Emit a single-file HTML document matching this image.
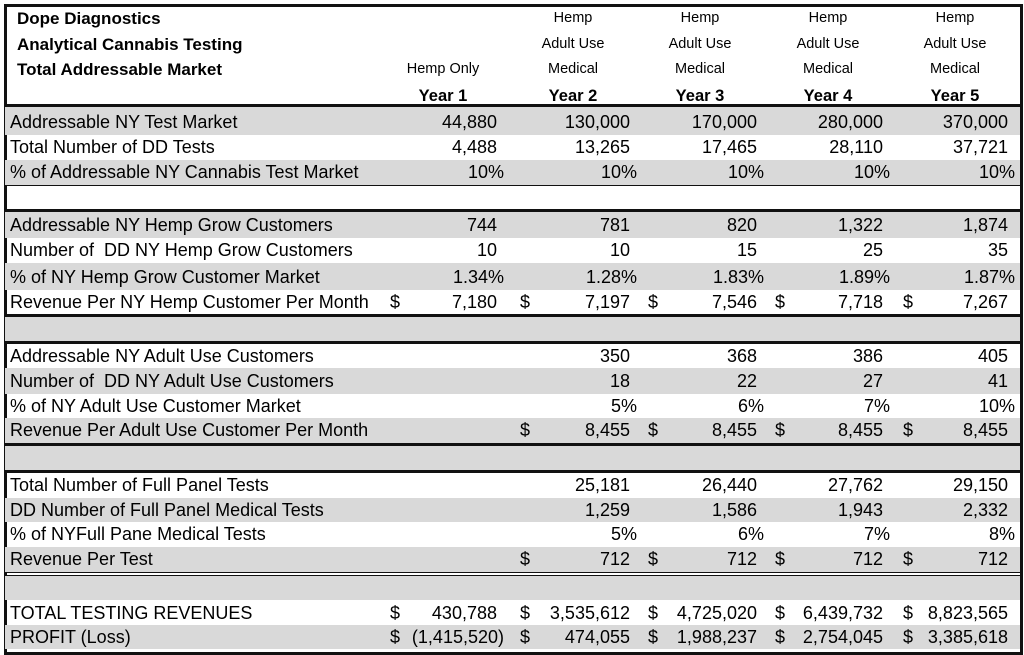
<!DOCTYPE html>
<html><head><meta charset="utf-8"><style>
body{margin:0;width:1024px;height:655px;background:#fff;position:relative;overflow:hidden;font-family:"Liberation Sans",sans-serif;color:#000}
.r{position:absolute;left:5px;width:1015px;font-size:18px}
.g{background:#d9d9d9}
.r span{position:absolute;top:0;white-space:nowrap}
.l{left:5px}
.ln{position:absolute;left:5px;width:1015px;background:#111}
.h{position:absolute;font-size:14.5px;text-align:center;width:110px;white-space:nowrap}
.y{position:absolute;font-size:16.5px;font-weight:bold;text-align:center;width:110px}
.t{position:absolute;left:17px;font-size:17px;font-weight:bold}
</style></head><body>
<div style="position:absolute;left:4px;top:4px;width:1013px;height:645px;border:3px solid #111"></div>

<div class="t" style="top:9px">Dope Diagnostics</div>
<div class="t" style="top:35px">Analytical Cannabis Testing</div>
<div class="t" style="top:60px">Total Addressable Market</div>
<div class="h" style="left:388px;top:61px">Hemp Only</div>
<div class="y" style="left:388px;top:87px">Year 1</div>
<div class="h" style="left:518px;top:10px">Hemp</div><div class="h" style="left:518px;top:36px">Adult Use</div><div class="h" style="left:518px;top:61px">Medical</div><div class="y" style="left:518px;top:87px">Year 2</div>
<div class="h" style="left:645px;top:10px">Hemp</div><div class="h" style="left:645px;top:36px">Adult Use</div><div class="h" style="left:645px;top:61px">Medical</div><div class="y" style="left:645px;top:87px">Year 3</div>
<div class="h" style="left:773px;top:10px">Hemp</div><div class="h" style="left:773px;top:36px">Adult Use</div><div class="h" style="left:773px;top:61px">Medical</div><div class="y" style="left:773px;top:87px">Year 4</div>
<div class="h" style="left:900px;top:10px">Hemp</div><div class="h" style="left:900px;top:36px">Adult Use</div><div class="h" style="left:900px;top:61px">Medical</div><div class="y" style="left:900px;top:87px">Year 5</div>

<div class="ln" style="top:104px;height:3px"></div>
<div class="r g" style="top:107px;height:28px;line-height:30px"><span class="l">Addressable NY Test Market</span><span style="right:523px">44,880</span><span style="right:390px">130,000</span><span style="right:263px">170,000</span><span style="right:137px">280,000</span><span style="right:12px">370,000</span></div>
<div class="r" style="top:135px;height:25px;line-height:25px"><span class="l">Total Number of DD Tests</span><span style="right:523px">4,488</span><span style="right:390px">13,265</span><span style="right:263px">17,465</span><span style="right:137px">28,110</span><span style="right:12px">37,721</span></div>
<div class="r g" style="top:160px;height:25px;line-height:25px"><span class="l">% of Addressable NY Cannabis Test Market</span><span style="right:516px">10%</span><span style="right:383px">10%</span><span style="right:256px">10%</span><span style="right:130px">10%</span><span style="right:5px">10%</span></div>
<div class="ln" style="top:185px;height:1px"></div>
<div class="ln" style="top:209px;height:3px"></div>

<div class="r g" style="top:212px;height:26px;line-height:26px"><span class="l">Addressable NY Hemp Grow Customers</span><span style="right:523px">744</span><span style="right:390px">781</span><span style="right:263px">820</span><span style="right:137px">1,322</span><span style="right:12px">1,874</span></div>
<div class="r" style="top:238px;height:25px;line-height:25px"><span class="l">Number of &nbsp;DD NY Hemp Grow Customers</span><span style="right:523px">10</span><span style="right:390px">10</span><span style="right:263px">15</span><span style="right:137px">25</span><span style="right:12px">35</span></div>
<div class="r g" style="top:263px;height:27px;line-height:28px"><span class="l">% of NY Hemp Grow Customer Market</span><span style="right:516px">1.34%</span><span style="right:383px">1.28%</span><span style="right:256px">1.83%</span><span style="right:130px">1.89%</span><span style="right:5px">1.87%</span></div>
<div class="r" style="top:290px;height:24px;line-height:24px"><span class="l">Revenue Per NY Hemp Customer Per Month</span><span style="left:385px">$</span><span style="right:523px">7,180</span><span style="left:515px">$</span><span style="right:390px">7,197</span><span style="left:643px">$</span><span style="right:263px">7,546</span><span style="left:770px">$</span><span style="right:137px">7,718</span><span style="left:898px">$</span><span style="right:12px">7,267</span></div>
<div class="ln" style="top:314px;height:3px"></div>
<div class="r g" style="top:317px;height:24px"></div>
<div class="ln" style="top:341px;height:3px"></div>

<div class="r" style="top:344px;height:24px;line-height:24px"><span class="l">Addressable NY Adult Use Customers</span><span style="right:390px">350</span><span style="right:263px">368</span><span style="right:137px">386</span><span style="right:12px">405</span></div>
<div class="r g" style="top:368px;height:26px;line-height:26px"><span class="l">Number of &nbsp;DD NY Adult Use Customers</span><span style="right:390px">18</span><span style="right:263px">22</span><span style="right:137px">27</span><span style="right:12px">41</span></div>
<div class="r" style="top:394px;height:24px;line-height:24px"><span class="l">% of NY Adult Use Customer Market</span><span style="right:383px">5%</span><span style="right:256px">6%</span><span style="right:130px">7%</span><span style="right:5px">10%</span></div>
<div class="r g" style="top:418px;height:25px;line-height:25px"><span class="l">Revenue Per Adult Use Customer Per Month</span><span style="left:515px">$</span><span style="right:390px">8,455</span><span style="left:643px">$</span><span style="right:263px">8,455</span><span style="left:770px">$</span><span style="right:137px">8,455</span><span style="left:898px">$</span><span style="right:12px">8,455</span></div>
<div class="ln" style="top:443px;height:3px"></div>
<div class="r g" style="top:446px;height:24px"></div>
<div class="ln" style="top:470px;height:3px"></div>

<div class="r" style="top:473px;height:25px;line-height:25px"><span class="l">Total Number of Full Panel Tests</span><span style="right:390px">25,181</span><span style="right:263px">26,440</span><span style="right:137px">27,762</span><span style="right:12px">29,150</span></div>
<div class="r g" style="top:498px;height:24px;line-height:24px"><span class="l">DD Number of Full Panel Medical Tests</span><span style="right:390px">1,259</span><span style="right:263px">1,586</span><span style="right:137px">1,943</span><span style="right:12px">2,332</span></div>
<div class="r" style="top:522px;height:25px;line-height:25px"><span class="l">% of NYFull Pane Medical Tests</span><span style="right:383px">5%</span><span style="right:256px">6%</span><span style="right:130px">7%</span><span style="right:5px">8%</span></div>
<div class="r g" style="top:547px;height:25px;line-height:25px"><span class="l">Revenue Per Test</span><span style="left:515px">$</span><span style="right:390px">712</span><span style="left:643px">$</span><span style="right:263px">712</span><span style="left:770px">$</span><span style="right:137px">712</span><span style="left:898px">$</span><span style="right:12px">712</span></div>
<div class="ln" style="top:572px;height:1px"></div>
<div class="ln" style="top:575px;height:1px"></div>
<div class="r g" style="top:576px;height:24px"></div>

<div class="r" style="top:600px;height:25px;line-height:26px"><span class="l">TOTAL TESTING REVENUES</span><span style="left:385px">$</span><span style="right:523px">430,788</span><span style="left:515px">$</span><span style="right:390px">3,535,612</span><span style="left:643px">$</span><span style="right:263px">4,725,020</span><span style="left:770px">$</span><span style="right:137px">6,439,732</span><span style="left:898px">$</span><span style="right:12px">8,823,565</span></div>
<div class="r g" style="top:625px;height:24px;line-height:24px"><span class="l">PROFIT (Loss)</span><span style="left:385px">$</span><span style="right:516px">(1,415,520)</span><span style="left:515px">$</span><span style="right:390px">474,055</span><span style="left:643px">$</span><span style="right:263px">1,988,237</span><span style="left:770px">$</span><span style="right:137px">2,754,045</span><span style="left:898px">$</span><span style="right:12px">3,385,618</span></div>
</body></html>
